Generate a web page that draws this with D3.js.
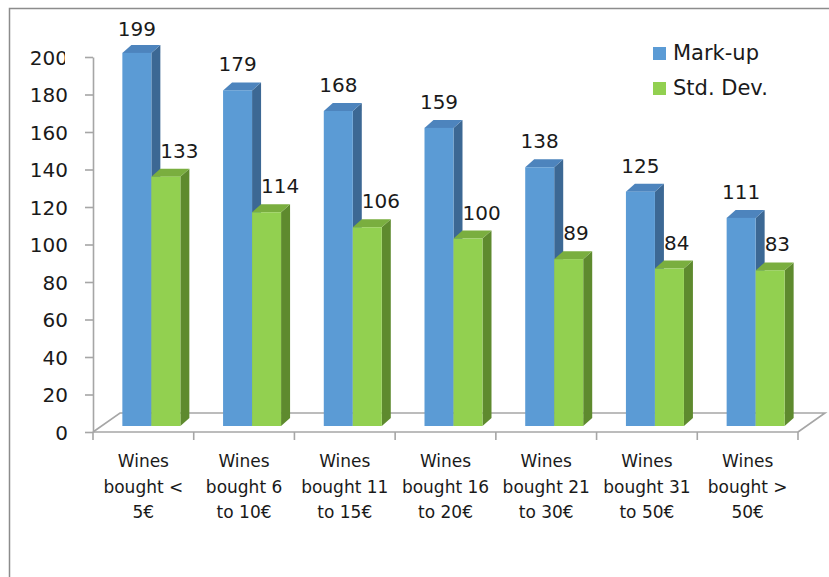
<!DOCTYPE html>
<html><head><meta charset="utf-8">
<script src="https://cdn.jsdelivr.net/npm/d3@7"></script>
<style>html,body{margin:0;padding:0;background:#fff;}svg{display:block;}</style>
</head><body>
<svg id="chart" width="829" height="577"></svg>
<script>
const categories = [
  ["Wines","bought <","5€"],
  ["Wines","bought 6","to 10€"],
  ["Wines","bought 11","to 15€"],
  ["Wines","bought 16","to 20€"],
  ["Wines","bought 21","to 30€"],
  ["Wines","bought 31","to 50€"],
  ["Wines","bought >","50€"]
];
const seriesNames = ["Mark-up","Std. Dev."];
const markup = [199,179,168,159,138,125,111];
const stddev = [133,114,106,100,89,84,83];
const yTicks = [0,20,40,60,80,100,120,140,160,180,200];

const colors = {
  "Mark-up": {front:"#5b9bd5", top:"#4d84bd", side:"#3c6894"},
  "Std. Dev.": {front:"#92d050", top:"#7aae3f", side:"#5e8a2e"}
};

const svg = d3.select("#chart");
const FONT = "DejaVu Sans, sans-serif";

// frame
svg.append("path").attr("d","M9.5,577 L9.5,8.5 L829,8.5")
  .attr("fill","none").attr("stroke","#8c8c8c").attr("stroke-width",1.5);

const x0 = 93, x1 = 798, yBase = 432, yTop = 57;
const depth = {dx:27, dy:-19};     // floor depth
const plane = {dx:8, dy:-6};       // bar front plane offset
const barDepth = {dx:9, dy:-8};

const x = d3.scaleBand().domain(d3.range(categories.length)).range([x0,x1]).paddingInner(0).paddingOuter(0);
const xs = d3.scaleBand().domain(seriesNames).range([-29,29]);
const y = d3.scaleLinear().domain([0,200]).range([yBase,yTop]);

// floor
const floor = svg.append("g").attr("stroke","#a6a6a6").attr("stroke-width",1.6).attr("fill","none");
floor.append("path").attr("d",`M${x0},${yBase} L${x0+depth.dx},${yBase+depth.dy} L${x1+depth.dx},${yBase+depth.dy} L${x1},${yBase}`);

// y axis
const yAxis = svg.append("g").attr("transform",`translate(${x0},0)`)
  .call(d3.axisLeft(y).tickValues(yTicks).tickSizeInner(8).tickSizeOuter(0).tickPadding(17));
yAxis.select(".domain").attr("stroke","#a6a6a6").attr("stroke-width",1.6);
yAxis.selectAll(".tick line").attr("stroke","#a6a6a6").attr("stroke-width",1.6);
yAxis.selectAll(".tick text").attr("font-family",FONT).attr("font-size",20).attr("fill","#1a1a1a").attr("dy","0.36em");
svg.append("clipPath").attr("id","clipTop").append("rect").attr("x",-200).attr("y",-100).attr("width",172).attr("height",300);
yAxis.selectAll(".tick").filter(d=>d===200).select("text").attr("clip-path","url(#clipTop)");

// x axis front line & ticks
svg.append("line").attr("x1",x0).attr("x2",x1).attr("y1",yBase).attr("y2",yBase)
  .attr("stroke","#a6a6a6").attr("stroke-width",1.6);
const bounds = d3.range(categories.length+1).map(i => i<categories.length ? x(i) : x(i-1)+x.bandwidth());
svg.append("g").selectAll("line").data(bounds).join("line")
  .attr("x1",d=>d).attr("x2",d=>d).attr("y1",yBase).attr("y2",yBase+8)
  .attr("stroke","#a6a6a6").attr("stroke-width",1.6);

// x labels
const xl = svg.append("g").selectAll("text").data(categories).join("text")
  .attr("x",(d,i)=>x(i)+x.bandwidth()/2).attr("y",467)
  .attr("text-anchor","middle").attr("font-family",FONT).attr("font-size",17).attr("fill","#1a1a1a");
xl.selectAll("tspan").data(d=>d).join("tspan")
  .attr("x",function(){return this.parentNode.getAttribute("x");})
  .attr("dy",(d,i)=>i===0?0:25.5).text(d=>d);

// bars
const data = categories.map((c,i)=>({i, vals:[{s:"Mark-up",v:markup[i]},{s:"Std. Dev.",v:stddev[i]}]}));
const groups = svg.append("g").selectAll("g").data(data).join("g");
groups.each(function(g){
  const G = d3.select(this);
  g.vals.forEach(b=>{
    const c = colors[b.s];
    const xl_ = x(g.i)+x.bandwidth()/2 + plane.dx + xs(b.s);
    const xr = xl_ + xs.bandwidth();
    const yt = y(b.v) + plane.dy;
    const yb = yBase + plane.dy;
    const dx = barDepth.dx, dy = barDepth.dy;
    G.append("path").attr("d",`M${xr},${yb} L${xr+dx},${yb+dy} L${xr+dx},${yt+dy} L${xr},${yt} Z`).attr("fill",c.side);
    G.append("path").attr("d",`M${xl_},${yt} L${xl_+dx},${yt+dy} L${xr+dx},${yt+dy} L${xr},${yt} Z`).attr("fill",c.top);
    G.append("rect").attr("x",xl_).attr("y",yt).attr("width",xr-xl_).attr("height",yb-yt).attr("fill",c.front);
  });
});
// value labels
groups.each(function(g){
  const G = d3.select(this);
  g.vals.forEach(b=>{
    const xl_ = x(g.i)+x.bandwidth()/2 + plane.dx + xs(b.s);
    const cx = b.s==="Mark-up" ? xl_ + xs.bandwidth()/2 : xl_ + 9;
    const yt = y(b.v) + plane.dy + barDepth.dy;
    G.append("text").attr("x",cx).attr("y",Math.max(yt-11,36))
      .attr("text-anchor", b.s==="Mark-up" ? "middle" : "start")
      .attr("font-family",FONT).attr("font-size",20).attr("fill","#1a1a1a").text(b.v);
  });
});

// legend
const lg = svg.append("g").selectAll("g").data(seriesNames).join("g")
  .attr("transform",(d,i)=>`translate(653,${47+i*35})`);
lg.append("rect").attr("width",13).attr("height",13).attr("fill",d=>colors[d].front);
lg.append("text").attr("x",20).attr("y",13).attr("font-family",FONT).attr("font-size",21).attr("fill","#1a1a1a").text(d=>d);
</script>
</body></html>
